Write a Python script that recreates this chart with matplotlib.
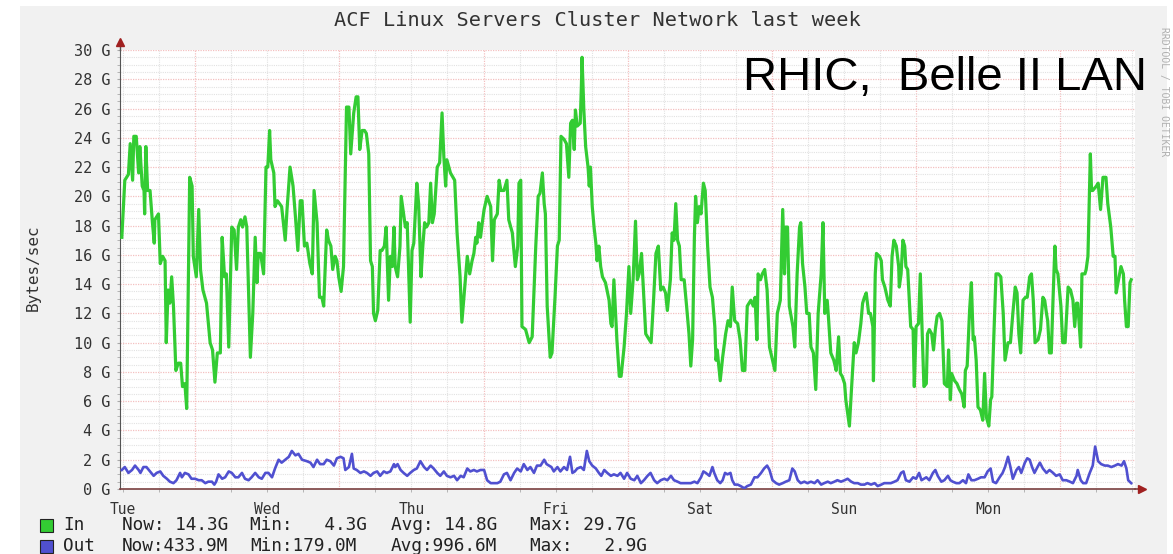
import numpy as np
import matplotlib
matplotlib.use('Agg')
import matplotlib.pyplot as plt
from matplotlib.patches import Rectangle
from matplotlib.ticker import MultipleLocator, FixedLocator

# time in hours since start of the week window, traffic in G bytes/sec
in_hours = [0.3, 0.8, 1.4, 1.7, 2.1, 2.3, 2.7, 3.1, 3.3, 3.7, 4.0, 4.1, 4.3, 4.6, 5.0, 5.4, 5.7, 5.8, 6.4, 6.7,
            7.1, 7.5, 7.7, 8.0, 8.3, 8.6, 8.9, 9.3, 9.7, 10.1, 10.4, 10.8, 11.1, 11.6, 12.0, 12.2, 12.7, 13.1, 13.4, 13.8,
            14.4, 15.0, 15.4, 15.8, 16.2, 16.7, 17.0, 17.4, 17.7, 18.1, 18.6, 19.0, 19.4, 19.7, 20.1, 20.4, 20.8, 21.1, 21.4, 21.7,
            22.1, 22.5, 22.8, 23.0, 23.4, 23.9, 24.3, 24.6, 24.9, 25.1, 25.6, 25.8, 26.2, 26.9, 27.5, 27.8, 28.3, 28.8, 29.2, 29.6,
            30.0, 30.3, 30.7, 31.1, 31.6, 32.0, 32.3, 32.8, 33.2,
            33.6, 33.9, 34.4, 34.7, 35.1, 35.4, 35.8, 36.1, 36.4, 36.8, 37.2, 37.7, 38.1, 38.4, 38.9, 39.3, 39.6, 39.9, 40.3, 40.7,
            41.0, 41.4, 41.7, 42.0, 42.2, 42.5, 42.9, 43.3, 43.6, 44.0, 44.3, 44.7, 45.0, 45.3, 45.6, 45.8, 46.2, 46.6, 46.8, 47.2,
            47.5, 47.8, 48.1, 48.3, 48.6, 48.9, 49.2, 49.4, 49.7, 50.1, 50.4, 50.7, 51.0, 51.4, 51.7, 52.0, 52.3, 52.8, 53.2, 53.6,
            53.9, 54.2, 54.4, 55.0, 55.7, 56.1, 56.6, 56.9, 57.3, 57.8, 58.2, 58.6, 58.9, 59.2, 59.4, 59.7, 60.0, 60.3, 60.6, 61.1,
            61.7, 62.0, 62.3, 62.8, 63.1, 63.4, 63.9, 64.4, 64.7, 65.3, 65.8, 66.2,
            66.4, 66.7, 66.9, 67.5, 68.1, 68.6, 69.2, 69.6, 69.9, 70.3, 70.6, 70.8, 71.1, 71.6, 71.9, 72.4, 72.8, 73.1, 73.4, 73.9,
            74.3, 74.7, 75.0, 75.3, 75.6, 75.8, 76.1, 76.6, 76.8, 76.9, 77.2, 77.5, 77.9, 78.1, 78.3, 78.6, 78.9, 79.2, 79.4, 79.7,
            80.0, 80.3, 80.8, 81.4, 81.7, 81.9, 82.2, 82.7, 83.1, 83.4, 83.9, 84.3, 84.7, 85.0, 85.4, 85.8, 86.1, 86.4, 86.8, 87.2,
            87.5, 88.1, 88.4, 88.8, 89.2, 89.6, 90.0, 90.4, 90.8, 91.1, 91.6, 91.9, 92.2, 92.5, 92.8, 93.1, 93.4, 93.9, 94.3, 94.7,
            95.0, 95.3, 95.6, 95.8, 96.1, 96.4, 96.7, 97.1, 97.4, 97.8, 98.2, 98.6, 99.0, 99.2, 99.4, 99.9,
            100.3, 100.8, 101.2, 101.6, 101.9, 102.3, 102.8, 103.2, 103.6, 104.0, 104.4, 105.0, 105.4, 105.7, 106.0, 106.2, 106.6,
            106.9, 107.3, 107.7, 108.1, 108.6, 109.0, 109.4, 109.9, 110.3, 110.6, 110.8, 111.1, 111.4, 112.0, 112.3, 112.7, 113.1,
            113.3, 113.6, 114.0, 114.3, 114.7, 115.0, 115.4, 115.8, 116.2, 116.7, 117.0, 117.3, 117.7, 117.9, 118.3, 118.8, 119.2,
            119.6, 119.9, 120.2, 120.6, 120.8, 121.1, 121.4, 121.7, 122.2, 122.5, 122.9, 123.3, 123.6, 123.9, 124.2, 124.6, 124.9,
            125.3, 125.4, 125.7, 125.9, 126.4, 126.7, 126.9, 127.3, 127.8, 128.2, 128.5, 128.8, 129.2, 129.6, 129.7, 130.0, 130.3,
            130.6, 130.8, 131.1, 131.6, 132.0, 132.2, 132.5, 132.9, 133.2,
            133.8, 134.2, 134.4, 134.7, 135.1, 135.4, 135.7, 136.0, 136.4, 136.8, 137.2, 137.7, 137.9, 138.2, 138.4, 138.9, 139.3,
            139.7, 140.1, 140.5, 140.7, 141.0, 141.4, 141.7, 142.0, 142.2, 142.5, 142.8, 143.2, 143.6, 143.9, 144.2, 144.6, 144.9,
            145.1, 145.4, 145.8, 146.2, 146.6, 147.0, 147.3, 147.8, 148.2, 148.6, 149.0, 149.3, 149.6, 149.9, 150.3, 150.7, 151.0,
            151.4, 151.7, 152.0, 152.3, 152.8, 153.2, 153.6, 153.9, 154.2, 154.4, 154.7, 155.0, 155.3, 155.6, 155.8, 156.1, 156.6,
            156.9, 157.3, 157.8, 158.2, 158.6, 158.9, 159.2, 159.4, 159.9, 160.1, 160.6, 160.8, 161.1, 161.5, 161.7, 161.9, 162.5,
            162.8, 163.2, 163.6, 164.1, 164.4, 164.9, 165.3, 165.6, 165.8, 166.1, 166.6, 167.0, 167.2, 167.5, 167.8, 168.1, 168.3]
in_gbps = [17.2, 21.1, 21.5, 23.6, 21.1, 24.1, 24.1, 21.6, 23.4, 20.7, 20.4, 18.8, 23.4, 20.4, 20.4, 18.2, 16.8, 18.4, 18.8, 15.4,
           15.9, 15.6, 10.0, 13.6, 12.7, 14.5, 12.5, 8.1, 8.6, 8.6, 7.0, 7.2, 5.5, 21.3, 20.7, 15.9, 14.5, 19.1, 15.0, 13.6,
           12.7, 10.0, 9.5, 7.3, 9.3, 9.3, 17.2, 14.5, 14.7, 9.7, 17.9, 17.7, 15.0, 17.9, 18.4, 17.9, 18.6, 17.9, 13.4, 9.0,
           12.0, 17.2, 14.1, 16.1, 16.1, 14.7, 22.0, 22.0, 24.5, 22.5, 21.6, 19.3, 19.7, 19.3, 17.0, 19.1, 22.0, 20.7, 18.6, 16.3,
           19.7, 19.7, 16.6, 16.8, 15.4, 14.7, 20.4, 18.2, 13.1,
           13.1, 12.5, 17.7, 17.0, 16.6, 15.0, 15.9, 15.6, 14.5, 13.5, 15.2, 26.1, 26.1, 22.9, 25.7, 26.8, 26.8, 23.2, 24.5, 24.5,
           24.3, 22.9, 15.6, 15.2, 12.0, 11.5, 12.2, 16.3, 16.3, 16.6, 17.9, 12.9, 15.9, 15.2, 17.9, 15.2, 14.5, 16.6, 20.0, 18.8,
           17.9, 18.2, 14.1, 11.4, 16.3, 16.8, 19.3, 20.9, 19.5, 14.5, 16.6, 18.2, 17.9, 18.2, 20.9, 18.2, 18.8, 22.0, 22.3, 25.7,
           22.7, 20.7, 22.5, 21.6, 21.1, 17.5, 14.5, 11.4, 13.4, 15.9, 14.7, 15.6, 16.1, 17.2, 16.8, 18.2, 17.2, 18.2, 19.1, 20.0,
           19.3, 15.6, 18.4, 18.8, 21.1, 20.4, 20.4, 21.1, 18.4, 17.5, 15.2, 16.6,
           20.9, 21.1, 11.1, 10.9, 10.0, 10.4, 16.6, 20.0, 20.2, 21.6, 19.5, 18.8, 12.5, 9.0, 9.3, 13.1, 16.6, 17.0, 24.1, 23.9,
           23.6, 21.3, 25.0, 25.2, 23.2, 25.9, 24.8, 25.0, 27.7, 29.5, 25.9, 23.4, 22.0, 20.7, 22.0, 19.3, 17.9, 16.8, 15.6, 16.6,
           15.2, 14.5, 14.1, 12.9, 11.3, 11.1, 14.3, 10.2, 7.7, 7.7, 9.7, 12.0, 15.2, 12.0, 14.3, 18.3, 14.3, 14.7, 16.1, 12.9,
           10.6, 10.2, 10.0, 12.9, 16.1, 16.6, 13.6, 13.8, 13.4, 12.2, 14.3, 17.5, 17.0, 19.5, 17.0, 16.6, 14.3, 14.3, 12.5, 10.6,
           8.4, 10.2, 17.2, 20.0, 18.2, 19.3, 18.8, 20.9, 20.4, 16.6, 13.8, 13.1, 11.1, 8.8, 9.5, 7.4,
           9.0, 10.6, 11.5, 11.1, 13.8, 11.5, 11.3, 10.2, 8.1, 8.1, 12.5, 12.9, 12.5, 13.1, 10.2, 14.7, 14.3,
           14.7, 15.0, 13.6, 9.7, 8.8, 8.1, 12.0, 12.9, 19.1, 14.7, 17.9, 17.9, 12.5, 11.1, 9.7, 14.7, 17.9,
           18.2, 15.4, 13.8, 12.0, 12.0, 9.7, 9.3, 6.8, 12.0, 14.7, 18.2, 12.0, 12.9, 11.8, 9.3, 8.8, 8.1,
           10.4, 7.9, 7.7, 7.2, 6.1, 5.2, 4.3, 6.5, 10.0, 9.3, 10.0, 11.3, 12.7, 13.1, 13.4, 12.0, 12.0,
           11.1, 7.4, 14.7, 16.1, 15.9, 15.6, 14.3, 13.8, 12.9, 12.5, 15.9, 17.0, 16.6, 15.2, 13.8, 14.7, 17.0,
           16.6, 15.2, 15.0, 11.1, 10.9, 7.0, 11.1, 11.3, 14.7,
           7.0, 7.2, 10.6, 10.9, 10.6, 9.5, 10.9, 11.8, 12.0, 11.5, 7.2, 7.0, 9.5, 6.1, 7.9, 7.4, 7.2,
           6.8, 6.5, 5.6, 8.1, 8.4, 12.2, 14.1, 10.2, 10.4, 8.8, 5.6, 5.4, 4.7, 7.9, 4.9, 4.3, 6.1,
           6.3, 10.0, 14.7, 14.7, 14.5, 12.0, 8.8, 10.0, 10.0, 12.0, 13.8, 13.4, 10.6, 9.3, 12.9, 13.1, 13.1,
           14.5, 14.7, 12.9, 10.0, 10.2, 10.9, 13.1, 12.9, 12.0, 11.5, 9.3, 9.3, 13.1, 16.6, 15.0, 14.7, 12.5,
           10.0, 10.0, 13.8, 13.6, 12.9, 11.1, 12.7, 12.7, 9.7, 14.7, 14.7, 15.0, 15.9, 22.9, 20.4, 20.4, 20.7,
           20.9, 19.1, 21.3, 21.3, 19.5, 17.9, 15.9, 15.9, 13.4, 14.1, 15.2, 14.7, 12.9, 11.1, 11.1, 14.1, 14.3]

out_hours = [0.3, 0.8, 1.4, 2.0, 2.5, 3.1, 3.4, 3.9, 4.4, 5.0, 5.6, 6.1, 6.7, 7.2, 7.8, 8.3, 8.9, 9.4, 10.0, 10.3,
             10.8, 11.4, 11.9, 12.5, 13.1, 13.6, 14.2, 14.7, 15.3, 15.7, 16.0, 16.4, 17.0, 17.5, 18.1, 18.6, 19.2, 19.7, 20.3, 20.8,
             21.4, 21.9, 22.5, 23.1, 23.6, 24.2, 24.7, 25.3, 25.8, 26.4, 26.9, 27.5, 28.1, 28.6, 29.2, 29.7, 30.3, 31.1, 31.7, 32.2,
             32.8, 33.3, 33.9, 34.4, 35.0, 35.6, 36.1, 36.7, 37.2, 37.5, 38.1, 38.6, 38.9, 39.4, 40.0, 40.6, 41.1, 41.7, 42.2, 42.8,
             43.3, 43.9, 44.4, 45.0, 45.6, 45.8, 46.2, 46.7, 47.2, 47.8, 48.3, 48.9, 49.4, 50.0, 50.6, 51.1, 51.7, 52.2, 52.8, 53.3,
             53.9, 54.4, 55.0, 55.6, 56.1, 56.7, 57.2, 57.8, 58.3, 58.9, 59.4, 60.0, 60.6, 61.1, 61.7, 62.2, 62.8, 63.3, 63.9, 64.4,
             65.0, 65.6, 66.1, 66.7, 67.2, 67.8, 68.3, 68.9, 69.4, 70.0, 70.6, 71.0, 71.4, 71.8, 72.2, 72.8, 73.3, 73.9, 74.4, 74.9,
             75.3, 75.7, 76.1, 76.7, 77.2, 77.7, 78.1, 78.6, 79.2, 79.7, 80.1, 80.6, 81.1, 81.7, 82.2, 82.8, 83.3, 83.9, 84.4, 85.0,
             85.6, 86.1, 86.7, 87.2, 87.8, 88.3, 88.9, 89.4, 90.0, 90.6, 91.1, 91.7, 92.2, 92.8, 93.3, 93.9, 94.4, 95.0, 95.6, 96.1,
             96.7, 97.1, 97.5, 98.1, 98.6, 98.9, 99.4, 99.9, 100.3, 100.7, 101.1, 101.6, 101.9, 102.3, 102.8, 103.3, 103.9, 104.4, 105.0, 105.6,
             106.1, 106.7, 107.2, 107.7, 108.1, 108.6, 109.2, 109.7, 110.3, 110.8, 111.4, 111.9, 112.3, 112.8, 113.3, 113.9, 114.4, 115.0, 115.6, 116.1,
             116.7, 117.2, 117.8, 118.3, 118.9, 119.4, 120.0, 120.6, 121.1, 121.7, 122.2, 122.8, 123.3, 123.9, 124.4, 125.0, 125.6, 126.1, 126.7, 127.2,
             127.8, 128.3, 128.9, 129.4, 130.0, 130.4, 130.8, 131.4, 132.0, 132.5, 133.0, 133.4, 134.2, 134.7, 135.3, 135.7, 136.1, 136.7, 137.2, 137.8,
             138.2, 138.6, 139.2, 139.7, 140.3, 140.8, 141.2, 141.7, 142.2, 142.8, 143.3, 143.9, 144.4, 144.9, 145.3, 145.8, 146.4, 146.9, 147.3, 147.8,
             148.2, 148.6, 149.2, 149.6, 150.0, 150.6, 151.0, 151.4, 151.8, 152.2, 152.7, 153.1, 153.6, 154.2, 154.7, 155.3, 155.8, 156.4, 156.9, 157.5,
             158.1, 158.6, 159.2, 159.4, 159.9, 160.3, 160.8, 161.4, 161.9, 162.3, 162.8, 163.3, 163.9, 164.4, 165.0, 165.6, 166.1, 166.7, 167.1, 167.5,
             167.8, 168.3]
out_gbps = [1.3, 1.5, 1.1, 1.3, 1.6, 1.3, 1.1, 1.5, 1.5, 1.2, 0.9, 1.1, 1.2, 0.9, 0.7, 0.5, 0.4, 0.6, 1.1, 0.8,
            1.1, 1.0, 0.7, 0.7, 0.6, 0.6, 0.4, 0.5, 0.5, 0.3, 0.5, 1.0, 0.7, 0.8, 1.2, 1.1, 0.8, 0.8, 1.1, 0.7,
            0.6, 0.8, 1.1, 0.8, 0.7, 1.1, 1.1, 0.8, 1.4, 2.0, 1.8, 2.0, 2.2, 2.6, 2.3, 2.4, 2.0, 1.9, 1.8, 1.5,
            2.0, 1.7, 1.7, 2.0, 1.9, 1.6, 2.1, 2.2, 2.1, 1.3, 1.5, 2.4, 1.4, 1.3, 1.1, 1.2, 1.1, 0.9, 1.1, 1.2,
            0.9, 1.2, 1.1, 1.2, 1.7, 1.5, 1.7, 1.3, 1.1, 0.9, 1.1, 1.3, 1.4, 1.9, 1.5, 1.3, 1.6, 1.4, 1.1, 0.9,
            1.2, 0.9, 0.8, 0.9, 0.6, 0.9, 0.8, 1.4, 1.2, 1.3, 1.2, 1.3, 1.3, 0.6, 0.4, 0.4, 0.4, 0.5, 1.0, 1.1,
            0.6, 1.1, 1.4, 1.2, 1.7, 1.3, 1.5, 1.1, 1.6, 1.6, 2.0, 1.7, 1.6, 1.5, 1.2, 1.5, 1.2, 1.5, 1.3, 2.2,
            1.1, 1.2, 1.4, 1.5, 1.3, 2.6, 1.9, 1.6, 1.4, 1.1, 0.9, 1.3, 1.1, 0.9, 1.0, 0.9, 1.1, 0.7, 1.1, 0.7,
            0.6, 0.9, 0.4, 0.6, 0.9, 1.1, 0.6, 0.4, 0.6, 0.7, 0.6, 0.9, 0.6, 0.5, 0.4, 0.4, 0.4, 0.4, 0.5, 0.4,
            0.8, 1.2, 1.1, 0.9, 1.5, 1.1, 0.6, 0.4, 0.6, 1.1, 1.0, 1.1, 0.6, 0.3, 0.3, 0.2, 0.05, 0.2, 0.3, 0.8,
            0.8, 1.1, 1.4, 1.6, 1.3, 0.6, 0.4, 0.3, 0.4, 0.5, 0.6, 1.4, 1.2, 0.6, 0.4, 0.5, 0.4, 0.5, 0.4, 0.6,
            0.3, 0.4, 0.5, 0.4, 0.5, 0.6, 0.5, 0.6, 0.7, 0.5, 0.4, 0.4, 0.3, 0.3, 0.4, 0.3, 0.4, 0.2, 0.3, 0.4,
            0.4, 0.4, 0.5, 0.6, 1.1, 1.2, 0.6, 0.5, 0.8, 0.7, 1.1, 0.6, 0.8, 0.6, 1.1, 1.3, 0.9, 0.5, 0.6, 0.9,
            0.6, 0.5, 0.4, 0.4, 0.6, 0.4, 1.0, 0.6, 0.6, 0.7, 0.8, 0.8, 1.2, 1.4, 0.5, 0.4, 0.8, 1.1, 1.5, 2.2,
            1.5, 0.7, 1.3, 1.5, 1.1, 1.8, 2.1, 2.0, 1.5, 1.1, 1.5, 1.8, 1.4, 1.1, 1.3, 1.1, 0.9, 1.0, 0.6, 0.6,
            0.5, 0.4, 0.9, 1.3, 0.6, 0.4, 0.4, 1.1, 1.6, 2.9, 1.9, 1.7, 1.6, 1.6, 1.5, 1.6, 1.7, 1.6, 1.9, 1.4,
            0.6, 0.4]

day_labels = ['Tue', 'Wed', 'Thu', 'Fri', 'Sat', 'Sun', 'Mon']
y_ticks = list(range(0, 31, 2))
legend_rows = [
    ('In', '#33cc33', ['Now: 14.3G', 'Min:   4.3G', 'Avg: 14.8G', 'Max: 29.7G']),
    ('Out', '#5050d0', ['Now:433.9M', 'Min:179.0M', 'Avg:996.6M', 'Max:   2.9G']),
]

W, H = 1173, 554
plt.rcParams['font.family'] = 'DejaVu Sans Mono'
fig = plt.figure(figsize=(W / 100, H / 100), dpi=100)
fig.patch.set_facecolor('white')
fig.patches.append(Rectangle((20 / W, 0), 1147 / W, (H - 6) / H, transform=fig.transFigure,
                             facecolor='#f1f1f1', edgecolor='none', zorder=-10))

x0, x1, y0, y1 = 120, 1135, 489, 50
ax = fig.add_axes([x0 / W, (H - y0) / H, (x1 - x0) / W, (y0 - y1) / H])
ax.set_facecolor('white')
px_per_hour = 144.2 / 24
ax.set_xlim(0, (x1 - x0) / px_per_hour)
ax.set_ylim(0, 30)

ax.plot(in_hours, in_gbps, color='#33cc33', lw=2.3, zorder=3)
ax.plot(out_hours, out_gbps, color='#5050d0', lw=1.9, zorder=3)

# grid like rrdtool
ax.yaxis.set_major_locator(FixedLocator(y_ticks))
ax.yaxis.set_minor_locator(MultipleLocator(0.5))
ax.xaxis.set_major_locator(FixedLocator([12.5 + 24 * k for k in range(7)]))
ax.xaxis.set_minor_locator(FixedLocator([0.5 + 6 * k for k in range(29)]))
ax.grid(which='minor', color='#e2e2e2', linestyle=(0, (1, 1)), lw=0.8, zorder=0)
ax.grid(which='major', color='#f4c0c0', linestyle=(0, (1, 1)), lw=0.9, zorder=1)
ax.set_yticklabels([f'{v} G' for v in y_ticks], fontsize=11, color='#333333')
ax.set_xticklabels([])
ax.tick_params(which='both', length=2, color='#aaaaaa', pad=5)
ax.tick_params(axis='x', which='major', length=0)
for i, d in enumerate(day_labels):
    ax.text(0.5 + 24 * i, -0.9, d, ha='center', va='top', fontsize=10.5, color='#333333')

for s in ['top', 'right']:
    ax.spines[s].set_visible(False)
ax.spines['left'].set_color('#555555')
ax.spines['bottom'].set_color('#7a4040')
ax.spines['bottom'].set_linewidth(1.2)
ax.plot([0, 0], [1.0, 1.015], transform=ax.transAxes, color='#555555', lw=1, clip_on=False)
ax.plot([1.0, 1.006], [0, 0], transform=ax.transAxes, color='#7a4040', lw=1.2, clip_on=False)
ax.plot([0], [1.018], marker='^', markersize=6, color='#a02020', transform=ax.transAxes, clip_on=False)
ax.plot([1.007], [0], marker='>', markersize=6, color='#a02020', transform=ax.transAxes, clip_on=False)

fig.text(597 / W, 1 - 20 / H, 'ACF Linux Servers Cluster Network last week', ha='center', va='center',
         fontsize=14.6, color='#333333')
fig.text(33 / W, 1 - 268 / H, 'Bytes/sec', rotation=90, ha='center', va='center', fontsize=11.5, color='#333333')
fig.text(1164 / W, 1 - 92 / H, 'RRDTOOL / TOBI OETIKER', rotation=270, ha='center', va='center',
         fontsize=7, color='#b0b0b0')
fig.text(743 / W, 1 - 78 / H, 'RHIC,  Belle II LAN', ha='left', va='center', fontsize=34,
         family='Liberation Sans', color='black')

# legend rows
for r, (name, col, stats) in enumerate(legend_rows):
    yc = 525 + 21 * r
    fig.patches.append(Rectangle((40 / W, 1 - (yc + 6.5) / H), 13 / W, 13 / H, transform=fig.transFigure,
                                 facecolor=col, edgecolor='#222222', lw=0.8))
    fig.text(63 / W, 1 - yc / H, name, ha='left', va='center', fontsize=12.8, color='#222222')
    for xs, s in zip([122, 250, 391, 530], stats):
        fig.text(xs / W, 1 - yc / H, s, ha='left', va='center', fontsize=12.8, color='#222222')

fig.savefig('out.png', dpi=100)
